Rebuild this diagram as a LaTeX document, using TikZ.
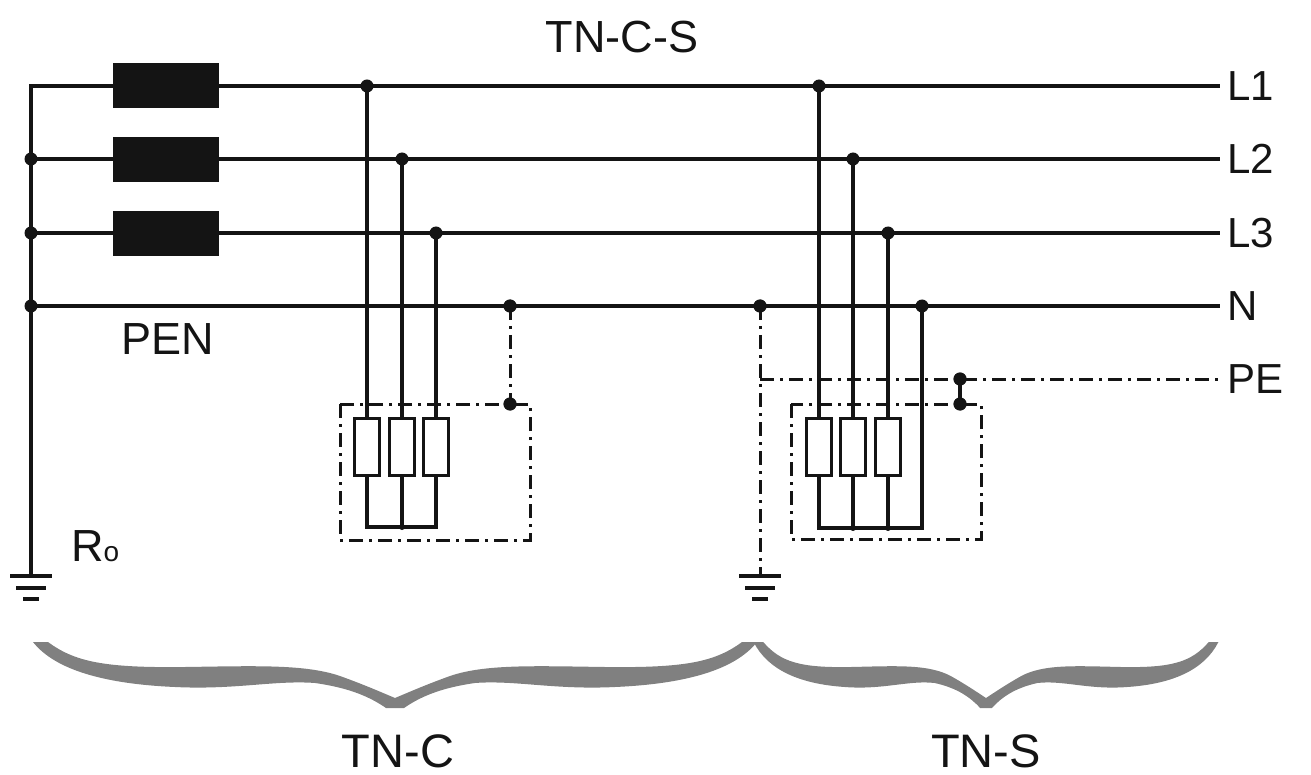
\documentclass[tikz,border=0pt]{standalone}
\usepackage{fontspec}
\setmainfont{Liberation Sans}
\definecolor{bracegray}{HTML}{808080}
\definecolor{ink}{HTML}{141414}
\begin{document}
\begin{tikzpicture}[x=1pt,y=-1pt,
  wire/.style={line width=3.2pt, draw=ink},
  pe/.style={line width=3pt, draw=ink, dash pattern=on 14pt off 6pt on 3pt off 6pt},
  dot/.style={circle, fill=ink, inner sep=0pt, minimum size=13pt},
  sdot/.style={circle, fill=ink, inner sep=0pt, minimum size=6pt},
  res/.style={draw=ink, line width=2.6pt, fill=white, minimum width=25pt, minimum height=57pt, inner sep=0pt},
  coil/.style={fill=ink, minimum width=106pt, minimum height=45pt, inner sep=0pt},
  big/.style={font=\fontsize{45}{48}\selectfont, text=ink},
  lbl/.style={font=\fontsize{42}{44}\selectfont, text=ink, anchor=west},
  earth/.pic={\draw[wire] (-21,0)--(21,0) (-15,12)--(15,12) (-8,23)--(8,23);},
  halfbrace/.style={insert path={(-347,642) .. controls (-320,662) and (-290,668) .. (-210,667)
     .. controls (-140,666) and (-90,664) .. (-55,676) .. controls (-30,685) and (-12,693) .. (0,698)
     -- (0,708) -- (-9,708) .. controls (-25,697) and (-45,688) .. (-80,683)
     .. controls (-120,680) and (-160,690) .. (-220,687) .. controls (-290,684) and (-340,670) .. (-362,642) -- cycle}}
]
\useasboundingbox (0,0) rectangle (1311,775);

% bus end points
\coordinate (s1) at (31,86);
\coordinate (e1) at (1220,86);
\coordinate (e2) at (1220,159);
\coordinate (e3) at (1220,233);
\coordinate (eN) at (1220,306);
\coordinate (ePE) at (1220,379);
\coordinate (gr1) at (31,576);
\node[dot] (g2) at (31,159) {};
\node[dot] (g3) at (31,233) {};
\node[dot] (gN) at (31,306) {};

\draw[wire] (gr1) -- (s1) -- (e1);
\draw[wire] (g2.center) -- (e2);
\draw[wire] (g3.center) -- (e3);
\draw[wire] (gN.center) -- (eN);
\pic at (gr1) {earth};

% source windings
\node[coil] (t1) at (166,85.5) {};
\node[coil] (t2) at (166,159.5) {};
\node[coil] (t3) at (166,234) {};

% ---------- TN-C consumer ----------
\node[dot] (a1) at (367,86) {};
\node[dot] (a2) at (402,159) {};
\node[dot] (a3) at (436,233) {};
\node[dot] (aN) at (510,306) {};
\node[dot] (aP) at (510,404) {};
\node[res] (ra1) at (367,447) {};
\node[res] (ra2) at (402,447) {};
\node[res] (ra3) at (436,447) {};
\coordinate (ba1) at (367,527);
\node[sdot] (ba2) at (402,527) {};
\coordinate (ba3) at (436,527);
\draw[pe] (340,404) rectangle (530,540);
\draw[wire] (a1.center) -- (ra1.north);
\draw[wire] (a2.center) -- (ra2.north);
\draw[wire] (a3.center) -- (ra3.north);
\draw[wire] (ra1.south) -- (ba1) -- (ba3) -- (ra3.south);
\draw[wire] (ra2.south) -- (ba2.center);
\draw[pe] (aN.center) -- (aP.center);
\node[dot] at (aP) {};
\node[dot] at (aN) {};

% ---------- TN-S consumer ----------
\node[dot] (bN0) at (760,306) {};
\coordinate (gr2) at (760,576);
\coordinate (pe0) at (760,379);
\draw[pe] (bN0.center) -- (gr2);
\draw[pe] (pe0) -- (ePE);
\pic at (gr2) {earth};
\node[dot] at (bN0) {};
\node[dot] (b1) at (819,86) {};
\node[dot] (b2) at (853,159) {};
\node[dot] (b3) at (888,233) {};
\node[dot] (bN) at (922,306) {};
\node[dot] (bP1) at (960,379) {};
\node[dot] (bP2) at (960,404) {};
\draw[pe] (791,404) rectangle (981,539);
\node[res] (rb1) at (819,447) {};
\node[res] (rb2) at (853,447) {};
\node[res] (rb3) at (888,447) {};
\coordinate (bb1) at (819,528);
\node[sdot] (bb2) at (853,528) {};
\node[sdot] (bb3) at (888,528) {};
\coordinate (bb4) at (922,528);
\draw[wire] (b1.center) -- (rb1.north);
\draw[wire] (b2.center) -- (rb2.north);
\draw[wire] (b3.center) -- (rb3.north);
\draw[wire] (bN.center) -- (bb4) -- (bb1) -- (rb1.south);
\draw[wire] (rb2.south) -- (bb2.center);
\draw[wire] (rb3.south) -- (bb3.center);
\draw[wire] (bP1.center) -- (bP2.center);
\node[dot] at (bP1) {};
\node[dot] at (bP2) {};

% ---------- labels ----------
\node[big] (tncs) at (622,37) {TN-C-S};
\node[lbl] (lL1) at (1224,86) {L1};
\node[lbl] (lL2) at (1224,159) {L2};
\node[lbl] (lL3) at (1224,233) {L3};
\node[lbl] (lN) at (1224,306) {N};
\node[lbl] (lPE) at (1224,379) {PE};
\node[big] (pen) at (168,339) {PEN};
\node[big, anchor=base west, inner sep=0pt] (r0) at (71,561) {R{\fontsize{28}{30}\selectfont o}};
\node[big, font=\fontsize{47}{50}\selectfont, anchor=base, inner sep=0pt] (ltnc) at (398,767) {TN-C};
\node[big, font=\fontsize{47}{50}\selectfont, anchor=base, inner sep=0pt] (ltns) at (986,767) {TN-S};

% ---------- braces ----------
\begin{scope}[shift={(395,0)}] \fill[bracegray, halfbrace]; \end{scope}
\begin{scope}[shift={(395,0)}, xscale=-1] \fill[bracegray, halfbrace]; \end{scope}
\begin{scope}[shift={(986,0)}, xscale=0.642] \fill[bracegray, halfbrace]; \end{scope}
\begin{scope}[shift={(986,0)}, xscale=-0.642] \fill[bracegray, halfbrace]; \end{scope}
\end{tikzpicture}
\end{document}
